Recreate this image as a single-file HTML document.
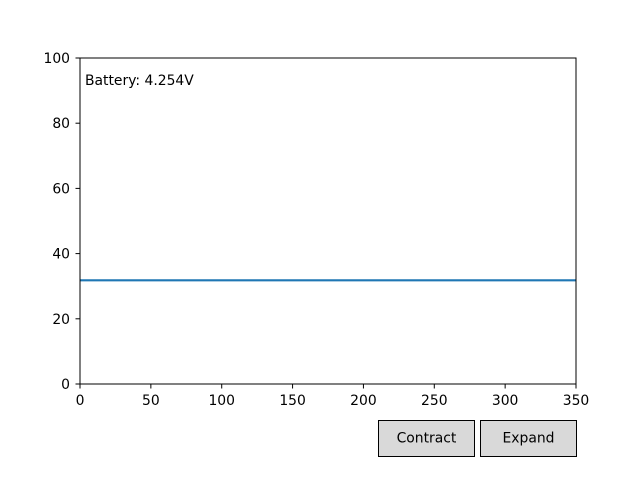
<!DOCTYPE html>
<html><head><meta charset="utf-8"><style>
body{margin:0;background:#fff;font-family:"DejaVu Sans","Liberation Sans",sans-serif;}
svg{display:block}
text{font-family:"DejaVu Sans","Liberation Sans",sans-serif;}
</style></head><body>
<svg id="chart" width="640" height="480" xmlns="http://www.w3.org/2000/svg">
<rect x="0" y="0" width="640" height="480" fill="#fff"/>
<g id="ticks"></g>
<g id="series"></g>
<rect x="80" y="58" width="496" height="326" fill="none" stroke="#000" stroke-width="1"/>
<text x="85" y="85" font-size="13.9" fill="#000">Battery: 4.254V</text>
<g>
<rect x="378.5" y="420.5" width="96" height="36" fill="#d9d9d9" stroke="#000"/>
<text x="426.5" y="442.5" font-size="13.9" text-anchor="middle">Contract</text>
</g>
<g>
<rect x="480.5" y="420.5" width="96" height="36" fill="#d9d9d9" stroke="#000"/>
<text x="528.5" y="442.5" font-size="13.9" text-anchor="middle">Expand</text>
</g>
</svg>
<script>
const xTicks=[0,50,100,150,200,250,300,350];
const yTicks=[0,20,40,60,80,100];
const seriesX=[0,350];
const seriesY=[31.8,31.8];
const NS="http://www.w3.org/2000/svg";
const xs=v=>80+v/350*496;
const ys=v=>384-v/100*326;
const tg=document.getElementById('ticks');
function mk(t,a){const e=document.createElementNS(NS,t);for(const k in a)e.setAttribute(k,a[k]);return e;}
xTicks.forEach(v=>{
 const l=mk('line',{x1:xs(v),x2:xs(v),y1:384,y2:388.5,stroke:'#000'});
 
 
 tg.appendChild(l);
 const t=mk('text',{x:xs(v),y:405,'font-size':13.9,'text-anchor':'middle'});
 
 
 t.textContent=v;tg.appendChild(t);
});
yTicks.forEach(v=>{
 const l=mk('line',{x1:75.5,x2:80,y1:ys(v),y2:ys(v),stroke:'#000'});
 
 
 tg.appendChild(l);
 const t=mk('text',{x:70,y:ys(v)+5,'font-size':13.9,'text-anchor':'end'});
 
 
 t.textContent=v;tg.appendChild(t);
});
const p=mk('polyline',{points:seriesX.map((x,i)=>xs(x)+','+ys(seriesY[i])).join(' '),fill:'none',stroke:'#1f77b4','stroke-width':2.2});


document.getElementById('series').appendChild(p);
</script>
</body></html>
